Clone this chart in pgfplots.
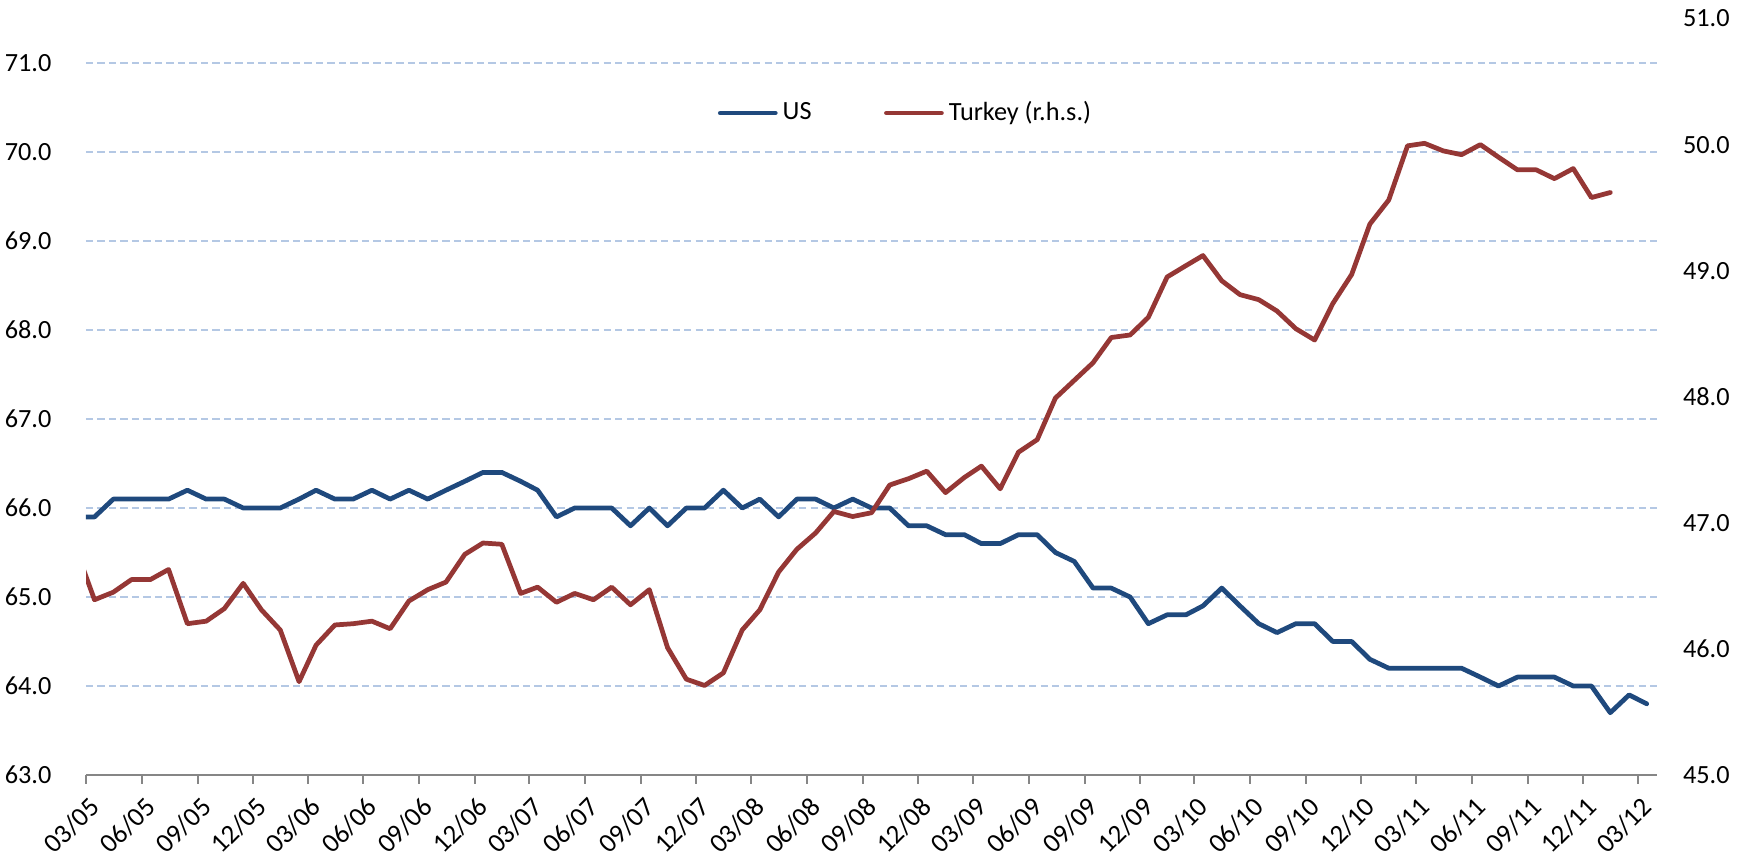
\documentclass[border=0pt]{standalone}
\usepackage{fontspec}
\setmainfont{Carlito}
\usepackage{pgfplots}
\pgfplotsset{compat=1.18}
\definecolor{usblue}{RGB}{31,73,125}
\definecolor{trred}{RGB}{149,55,53}
\definecolor{gridblue}{RGB}{180,200,228}
\definecolor{axgray}{RGB}{134,134,134}
\begin{document}
\begin{tikzpicture}[font=\fontsize{10.5pt}{12.6pt}\selectfont]
\path[use as bounding box] (-34.4pt,-33.2pt) rectangle (664.8pt,310pt);
\pgfplotsset{
  base/.style={
    at={(0pt,0pt)}, anchor=south west,
    width=628.4pt, height=302.6pt, scale only axis,
    xmin=0, xmax=2588,
    /pgf/number format/assume math mode=true,
    yticklabel style={/pgf/number format/fixed, /pgf/number format/fixed zerofill, /pgf/number format/precision=1},
    ytick style={draw=none},
  }
}
\begin{axis}[base,
  ymin=63, ymax=71.5,
  ytick={63,64,65,66,67,68,69,70,71},
  axis x line*=bottom, axis y line*=left,
  y axis line style={draw=none},
  x axis line style={axgray, line width=0.8pt},
  xtick={0,92,184,275,365,457,549,640,730,822,914,1005,1096,1188,1280,1371,1461,1553,1645,1736,1826,1918,2010,2101,2191,2283,2375,2466,2557},
  xticklabels={03/05,06/05,09/05,12/05,03/06,06/06,09/06,12/06,03/07,06/07,09/07,12/07,03/08,06/08,09/08,12/08,03/09,06/09,09/09,12/09,03/10,06/10,09/10,12/10,03/11,06/11,09/11,12/11,03/12},
  xtick style={axgray, line width=0.8pt},
  tick align=outside, major tick length=3.4pt,
  xticklabel style={rotate=45, anchor=north east, xshift=0.6pt, yshift=-0.4pt, font=\fontsize{10.8pt}{12.6pt}\selectfont},
  yticklabel style={xshift=-6.9pt},
  ymajorgrids, major grid style={gridblue, line width=0.75pt, dash pattern=on 2.9pt off 1.7pt},
]
\addplot[usblue, line width=1.9pt, line join=round, line cap=round] coordinates {
(-14,65.9)(14,65.9)(45,66.1)(75,66.1)(106,66.1)(136,66.1)(167,66.2)(198,66.1)(228,66.1)(259,66.0)(289,66.0)
(320,66.0)(351,66.1)(379,66.2)(410,66.1)(440,66.1)(471,66.2)(501,66.1)(532,66.2)(563,66.1)(593,66.2)(624,66.3)(654,66.4)
(685,66.4)(716,66.3)(744,66.2)(775,65.9)(805,66.0)(836,66.0)(866,66.0)(897,65.8)(928,66.0)(958,65.8)(989,66.0)(1019,66.0)
(1050,66.2)(1081,66.0)(1110,66.1)(1141,65.9)(1171,66.1)(1202,66.1)(1232,66.0)(1263,66.1)(1294,66.0)(1324,66.0)(1355,65.8)(1385,65.8)
(1416,65.7)(1447,65.7)(1475,65.6)(1506,65.6)(1536,65.7)(1567,65.7)(1597,65.5)(1628,65.4)(1659,65.1)(1689,65.1)(1720,65.0)(1750,64.7)
(1781,64.8)(1812,64.8)(1840,64.9)(1871,65.1)(1901,64.9)(1932,64.7)(1962,64.6)(1993,64.7)(2024,64.7)(2054,64.5)(2085,64.5)(2115,64.3)
(2146,64.2)(2177,64.2)(2205,64.2)(2236,64.2)(2266,64.2)(2297,64.1)(2327,64.0)(2358,64.1)(2389,64.1)(2419,64.1)(2450,64.0)(2480,64.0)
(2511,63.7)(2542,63.9)(2571,63.8)
};
\end{axis}
\begin{axis}[base,
  ymin=45, ymax=51,
  ytick={45,46,47,48,49,50,51},
  axis x line=none, axis y line*=right,
  y axis line style={draw=none},
  yticklabel style={xshift=6.9pt},
  legend style={at={(0.5226,0.875)}, anchor=center, draw=none, fill=none, inner sep=0pt,
    legend columns=2, /tikz/every even column/.append style={column sep=27pt},
    font=\fontsize{10.5pt}{12.6pt}\selectfont},
  legend image code/.code={\draw[#1, line cap=round] (0pt,0pt) -- (22pt,0pt);},
  legend cell align=left,
]
\addlegendimage{usblue, line width=1.9pt}
\addlegendentry{US}
\addplot[trred, line width=1.9pt, line join=round, line cap=round] coordinates {
(-14,46.76)(14,46.39)(45,46.45)(75,46.55)(106,46.55)(136,46.63)(167,46.20)(198,46.22)(228,46.32)(259,46.52)(289,46.31)
(320,46.15)(351,45.74)(379,46.03)(410,46.19)(440,46.20)(471,46.22)(501,46.16)(532,46.38)(563,46.47)(593,46.53)(624,46.75)(654,46.84)
(685,46.83)(716,46.44)(744,46.49)(775,46.37)(805,46.44)(836,46.39)(866,46.49)(897,46.35)(928,46.47)(958,46.01)(989,45.76)(1019,45.71)
(1050,45.81)(1081,46.15)(1110,46.31)(1141,46.61)(1171,46.79)(1202,46.92)(1232,47.09)(1263,47.05)(1294,47.08)(1324,47.30)(1355,47.35)(1385,47.41)
(1416,47.24)(1447,47.36)(1475,47.45)(1506,47.27)(1536,47.56)(1567,47.66)(1597,47.99)(1628,48.13)(1659,48.27)(1689,48.47)(1720,48.49)(1750,48.63)
(1781,48.95)(1812,49.04)(1840,49.12)(1871,48.92)(1901,48.81)(1932,48.77)(1962,48.68)(1993,48.54)(2024,48.45)(2054,48.74)(2085,48.97)(2115,49.37)
(2146,49.56)(2177,49.99)(2205,50.01)(2236,49.95)(2266,49.92)(2297,50.00)(2327,49.90)(2358,49.80)(2389,49.80)(2419,49.73)(2450,49.81)(2480,49.58)
(2511,49.62)
};
\addlegendentry{Turkey (r.h.s.)}
\end{axis}
\end{tikzpicture}
\end{document}
